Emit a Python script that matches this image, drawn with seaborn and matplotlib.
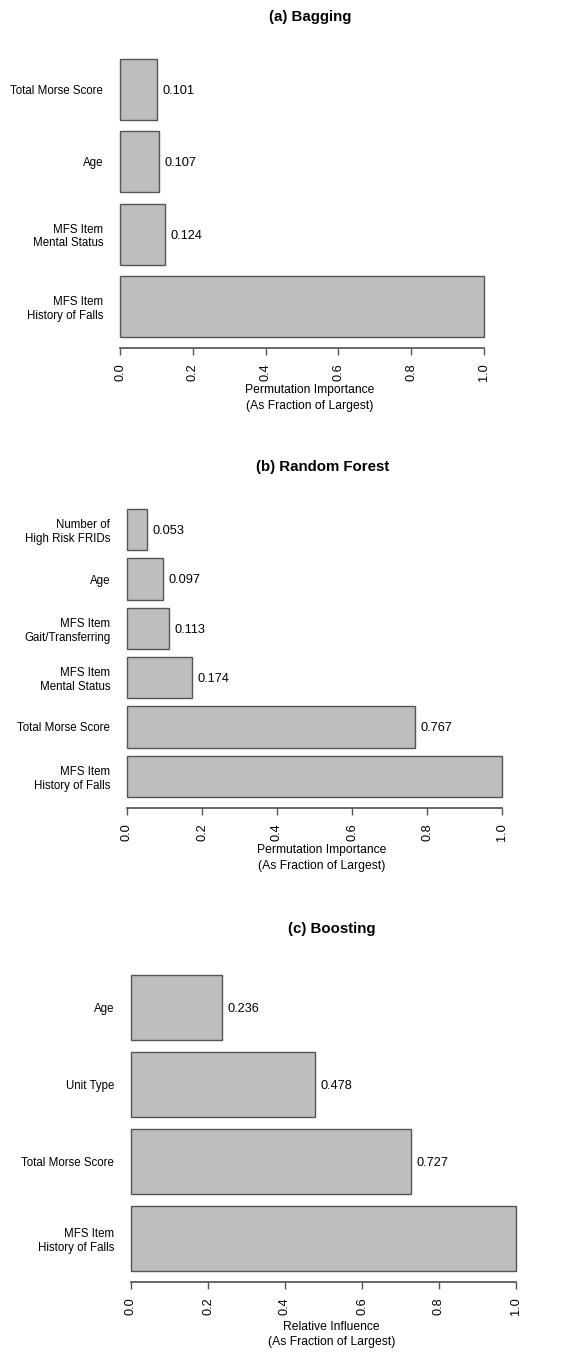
import numpy as np
import pandas as pd
import matplotlib
matplotlib.use("Agg")
import matplotlib.pyplot as plt
from matplotlib import font_manager
import seaborn as sns

# data, top to bottom as drawn
bag_labels = ["Total Morse Score", "Age", "MFS Item\nMental Status", "MFS Item\nHistory of Falls"]
bag_values = [0.101, 0.107, 0.124, 1.000]

rf_labels = ["Number of\nHigh Risk FRIDs", "Age", "MFS Item\nGait/Transferring",
             "MFS Item\nMental Status", "Total Morse Score", "MFS Item\nHistory of Falls"]
rf_values = [0.053, 0.097, 0.113, 0.174, 0.767, 1.000]

boost_labels = ["Age", "Unit Type", "Total Morse Score", "MFS Item\nHistory of Falls"]
boost_values = [0.236, 0.478, 0.727, 1.000]

titles = ["(a) Bagging", "(b) Random Forest", "(c) Boosting"]
xlabels = ["Permutation Importance\n(As Fraction of Largest)",
           "Permutation Importance\n(As Fraction of Largest)",
           "Relative Influence\n(As Fraction of Largest)"]
xticks = [0.0, 0.2, 0.4, 0.6, 0.8, 1.0]

sns.set_theme(style="ticks")

# the original text looks horizontally squeezed; use a narrow face if there is one
names = {f.name for f in font_manager.fontManager.ttflist}
if "Liberation Sans Narrow" in names:
    fam, k = "Liberation Sans Narrow", 1.0 / 0.82
else:
    fam, k = "Liberation Sans", 1.0
plt.rcParams["font.family"] = [fam, "DejaVu Sans"]
plt.rcParams["text.color"] = "black"
plt.rcParams["xtick.labelcolor"] = "black"
plt.rcParams["ytick.labelcolor"] = "black"
plt.rcParams["axes.labelcolor"] = "black"

W, H = 569, 1355
fig = plt.figure(figsize=(W / 100, H / 100), dpi=100)

# pixel boxes: left, right, top, bottom of bar region; title centre; xlabel pad
boxes = [(120, 484, 59, 337, 310, 17, 2),
         (127, 502, 509, 797, 323, 467, 2),
         (131, 516, 975, 1271, 332, 929, 4)]
panels = [(bag_labels, bag_values), (rf_labels, rf_values), (boost_labels, boost_values)]
bw = 0.84

for (labels, values), (l, r, t, b, tx, ty, lp), title, xl in zip(panels, boxes, titles, xlabels):
    ax = fig.add_axes([l / W, 1 - b / H, (r - l) / W, (b - t) / H])
    df = pd.DataFrame({"feature": labels, "value": values})
    sns.barplot(data=df, x="value", y="feature", orient="h", color="#bebebe",
                edgecolor="#555555", linewidth=1.0, width=bw, saturation=1, ax=ax)
    for p in ax.patches:
        p.set_clip_on(False)
    n = len(labels)
    ax.set_ylim(n - 1 + bw / 2, -bw / 2)
    ax.set_xlim(0, 1)
    for i, v in enumerate(values):
        if v < 1:
            ax.annotate(f"{v:.3f}", (v, i), xytext=(4, -1), textcoords="offset points",
                        ha="left", va="center", fontsize=9.2 * k, color="black")
    for s in ["top", "right", "left"]:
        ax.spines[s].set_visible(False)
    ax.spines["bottom"].set_position(("outward", 8))
    ax.spines["bottom"].set_bounds(0, 1)
    ax.spines["bottom"].set_color("#555555")
    ax.set_xticks(xticks)
    ax.set_xticklabels([f"{x:.1f}" for x in xticks], rotation=90, fontsize=9.2 * k)
    ax.tick_params(axis="x", length=5, width=1, color="#555555", pad=6)
    ax.tick_params(axis="y", length=0, pad=12, labelsize=8.3 * k)
    ax.set_ylabel("")
    ax.set_xlabel(xl, fontsize=8.7 * k, labelpad=lp, linespacing=1.4)
    ax.xaxis.label.set_x(0.52)
    ax.grid(False)
    fig.text(tx / W, 1 - ty / H, title, ha="center", va="center",
             fontsize=10.8 * k, fontweight="bold")

fig.savefig("out.png", dpi=100, facecolor="white")
